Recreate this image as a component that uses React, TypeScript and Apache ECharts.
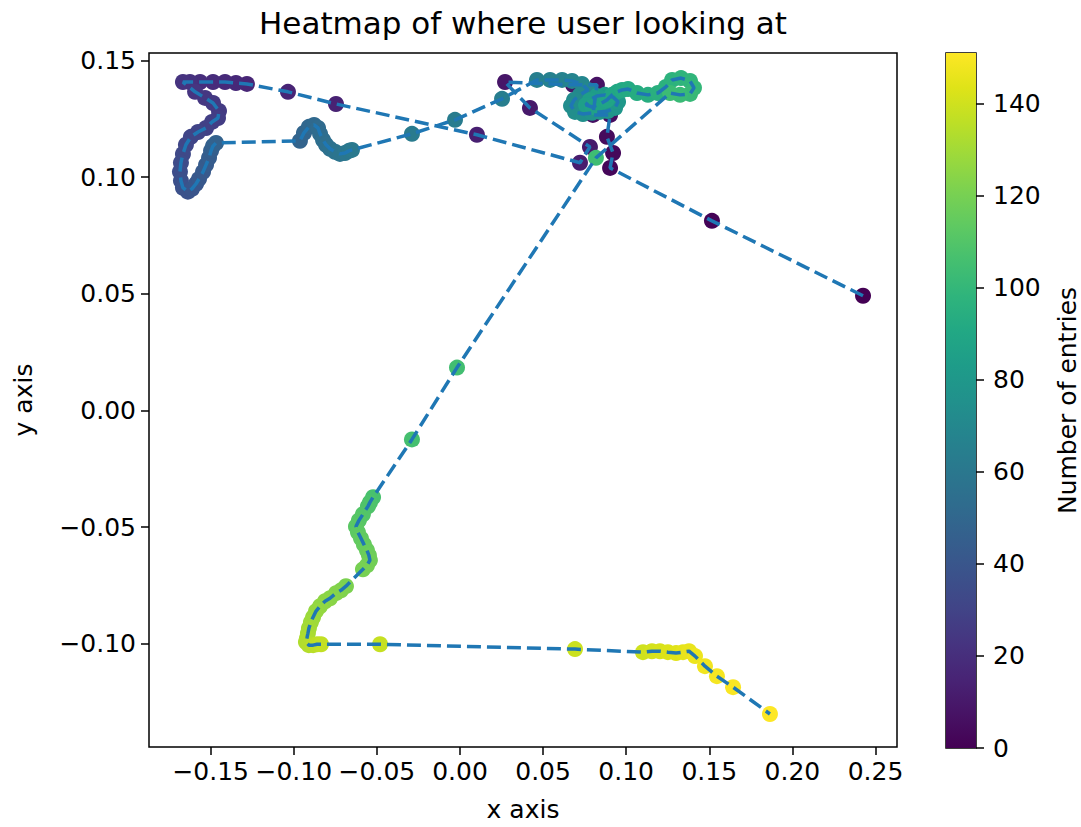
import React, { useEffect, useRef } from "react";
import * as echarts from "echarts";

// ---- data ----
const xs: number[] = [
  0.2425, 0.1516, 0.0903, 0.0921, 0.0884, 0.0903, 0.0800, 0.0824, 0.0680, 0.0271,
  0.0421, 0.0782, 0.0722, 0.0102, -0.0746, -0.1035, -0.1282, -0.1348, -0.1414, -0.1486,
  -0.1564, -0.1625, -0.1667, -0.1594, -0.1534, -0.1486, -0.1450, -0.1456, -0.1492, -0.1528,
  -0.1576, -0.1619, -0.1649, -0.1667, -0.1679, -0.1685, -0.1679, -0.1667, -0.1637, -0.1613,
  -0.1588, -0.1570, -0.1546, -0.1528, -0.1510, -0.1498, -0.1486, -0.1468, -0.0963, -0.0939,
  -0.0909, -0.0878, -0.0854, -0.0842, -0.0824, -0.0806, -0.0782, -0.0752, -0.0722, -0.0692,
  -0.0668, -0.0650, -0.0289, -0.0030, 0.0253, 0.0463, 0.0542, 0.0614, 0.0674, 0.0734,
  0.0770, 0.0722, 0.0686, 0.0668, 0.0692, 0.0740, 0.0794, 0.0842, 0.0890, 0.0933,
  0.0951, 0.0921, 0.0872, 0.0824, 0.0782, 0.0758, 0.0794, 0.0842, 0.0884, 0.0915,
  0.0945, 0.0975, 0.1011, 0.1065, 0.1131, 0.1191, 0.1239, 0.1276, 0.1330, 0.1384,
  0.1408, 0.1384, 0.1324, 0.1264, 0.0818, -0.0018, -0.0289, -0.0523, -0.0542, -0.0554,
  -0.0584, -0.0608, -0.0626, -0.0614, -0.0596, -0.0578, -0.0560, -0.0548, -0.0542, -0.0560,
  -0.0584, -0.0686, -0.0716, -0.0746, -0.0782, -0.0812, -0.0842, -0.0866, -0.0884, -0.0897,
  -0.0909, -0.0915, -0.0921, -0.0927, -0.0909, -0.0884, -0.0860, -0.0836, -0.0481, 0.0692,
  0.1101, 0.1155, 0.1203, 0.1251, 0.1300, 0.1342, 0.1378, 0.1414, 0.1474, 0.1546,
  0.1643, 0.1865,
];
const ys: number[] = [
  0.0492, 0.0813, 0.1040, 0.1104, 0.1173, 0.1267, 0.1267, 0.1396, 0.1396, 0.1408,
  0.1297, 0.1130, 0.1062, 0.1182, 0.1314, 0.1366, 0.1400, 0.1404, 0.1408, 0.1408,
  0.1408, 0.1408, 0.1408, 0.1366, 0.1340, 0.1318, 0.1284, 0.1254, 0.1237, 0.1211,
  0.1194, 0.1173, 0.1139, 0.1100, 0.1062, 0.1023, 0.0985, 0.0955, 0.0938, 0.0950,
  0.0972, 0.0993, 0.1023, 0.1053, 0.1083, 0.1113, 0.1134, 0.1147, 0.1156, 0.1190,
  0.1216, 0.1224, 0.1211, 0.1186, 0.1160, 0.1139, 0.1122, 0.1109, 0.1100, 0.1104,
  0.1113, 0.1117, 0.1186, 0.1246, 0.1336, 0.1417, 0.1417, 0.1417, 0.1413, 0.1400,
  0.1374, 0.1353, 0.1331, 0.1306, 0.1280, 0.1271, 0.1276, 0.1280, 0.1284, 0.1297,
  0.1323, 0.1344, 0.1353, 0.1348, 0.1331, 0.1310, 0.1301, 0.1314, 0.1331, 0.1353,
  0.1366, 0.1374, 0.1378, 0.1361, 0.1353, 0.1361, 0.1387, 0.1417, 0.1425, 0.1413,
  0.1383, 0.1357, 0.1353, 0.1361, 0.1083, 0.0184, -0.0124, -0.0372, -0.0394, -0.0411,
  -0.0445, -0.0471, -0.0497, -0.0522, -0.0548, -0.0574, -0.0599, -0.0621, -0.0642, -0.0664,
  -0.0681, -0.0753, -0.0771, -0.0783, -0.0805, -0.0818, -0.0839, -0.0860, -0.0886, -0.0908,
  -0.0933, -0.0955, -0.0976, -0.0993, -0.1006, -0.1006, -0.1002, -0.1002, -0.1002, -0.1023,
  -0.1036, -0.1032, -0.1032, -0.1036, -0.1040, -0.1036, -0.1032, -0.1053, -0.1096, -0.1139,
  -0.1186, -0.1301,
];
const xTicks: number[] = [-0.15, -0.1, -0.05, 0, 0.05, 0.1, 0.15, 0.2, 0.25];
const yTicks: number[] = [-0.1, -0.05, 0, 0.05, 0.1, 0.15];
const cbTicks: number[] = [0, 20, 40, 60, 80, 100, 120, 140];
const viridis: string[] = [
  "#440154", "#471365", "#482475", "#463480", "#414487", "#3b528b", "#355f8d",
  "#2f6c8e", "#2a788e", "#25848e", "#21918c", "#1e9c89", "#22a884", "#2fb47c",
  "#44bf70", "#5ec962", "#7ad151", "#9bd93c", "#bddf26", "#dfe318", "#fde725",
];

const FONT = "DejaVu Sans";
const fmt = (v: number) => {
  const s = Math.abs(v) < 1e-9 ? "0.00" : v.toFixed(2);
  return s.replace("-", "\u2212");
};

export default function App() {
  const ref = useRef<HTMLDivElement>(null);
  useEffect(() => {
    if (!ref.current) return;
    const chart = echarts.init(ref.current, undefined, { renderer: "svg" });
    const n = xs.length;
    const cMax = n - 1;
    const scatterData = xs.map((x, i) => [x, ys[i], i]);
    const lineData = xs.map((x, i) => [x, ys[i]]);
    const stops = viridis.map((c, i) => ({ offset: i / (viridis.length - 1), color: c }));

    const tickLabel = { fontFamily: FONT, fontSize: 25, color: "#000" };
    const tickStyle = { show: true, length: 8, lineStyle: { color: "#000", width: 1.5 } };

    chart.setOption({
      animation: false,
      backgroundColor: "#fff",
      title: {
        text: "Heatmap of where user looking at",
        left: 523,
        top: 7,
        padding: 0,
        textAlign: "center",
        textStyle: { fontFamily: FONT, fontSize: 31, fontWeight: "normal", color: "#000" },
      },
      grid: [
        { left: 149, top: 53, width: 748, height: 695, show: true, borderColor: "#000", borderWidth: 1.5, containLabel: false },
        { left: 946, top: 53, width: 34, height: 695, show: true, borderColor: "#000", borderWidth: 1.5, containLabel: false },
      ],
      xAxis: [
        {
          type: "value",
          gridIndex: 0,
          min: -0.18712,
          max: 0.26294,
          splitLine: { show: false },
          axisLine: { show: false, onZero: false },
          axisTick: { ...tickStyle, customValues: xTicks },
          axisLabel: { ...tickLabel, margin: 12, customValues: xTicks, formatter: fmt },
          name: "x axis",
          nameLocation: "middle",
          nameGap: 50,
          nameTextStyle: { fontFamily: FONT, fontSize: 25, color: "#000" },
        },
        { type: "value", gridIndex: 1, min: 0, max: 1, show: false },
      ],
      yAxis: [
        {
          type: "value",
          gridIndex: 0,
          min: -0.14426,
          max: 0.15325,
          splitLine: { show: false },
          axisLine: { show: false, onZero: false },
          axisTick: { ...tickStyle, customValues: yTicks },
          axisLabel: { ...tickLabel, margin: 13, customValues: yTicks, formatter: fmt },
          name: "y axis",
          nameLocation: "middle",
          nameGap: 113,
          nameRotate: 90,
          nameTextStyle: { fontFamily: FONT, fontSize: 25, color: "#000" },
        },
        {
          type: "value",
          gridIndex: 1,
          position: "right",
          min: 0,
          max: cMax,
          splitLine: { show: false },
          axisLine: { show: false, onZero: false },
          axisTick: { ...tickStyle, customValues: cbTicks },
          axisLabel: { ...tickLabel, margin: 17, customValues: cbTicks, formatter: (v: number) => String(Math.round(v)) },
          name: "Number of entries",
          nameLocation: "middle",
          nameGap: 79,
          nameRotate: 90,
          nameTextStyle: { fontFamily: FONT, fontSize: 25, color: "#000" },
        },
      ],
      visualMap: {
        type: "continuous",
        show: false,
        seriesIndex: 0,
        dimension: 2,
        min: 0,
        max: cMax,
        inRange: { color: viridis },
      },
      series: [
        {
          type: "scatter",
          xAxisIndex: 0,
          yAxisIndex: 0,
          data: scatterData,
          symbol: "circle",
          symbolSize: 16,
          itemStyle: { opacity: 1 },
          z: 2,
          silent: true,
        },
        {
          type: "line",
          xAxisIndex: 0,
          yAxisIndex: 0,
          data: lineData,
          symbol: "none",
          showSymbol: false,
          lineStyle: { color: "#1f77b4", width: 3.5, type: [14, 6], cap: "butt" },
          z: 3,
          silent: true,
        },
        {
          type: "custom",
          xAxisIndex: 1,
          yAxisIndex: 1,
          data: [[0]],
          silent: true,
          z: 1,
          renderItem: (_params: any, api: any) => {
            const p0 = api.coord([0, 0]);
            const p1 = api.coord([1, cMax]);
            return {
              type: "rect",
              shape: { x: p0[0], y: p1[1], width: p1[0] - p0[0], height: p0[1] - p1[1] },
              style: { fill: new echarts.graphic.LinearGradient(0, 1, 0, 0, stops) },
            };
          },
        },
      ],
    });
    return () => chart.dispose();
  }, []);
  return (
    <div
      ref={ref}
      style={{ position: "fixed", left: 0, top: 0, width: 1081, height: 827, background: "#fff" }}
    />
  );
}
